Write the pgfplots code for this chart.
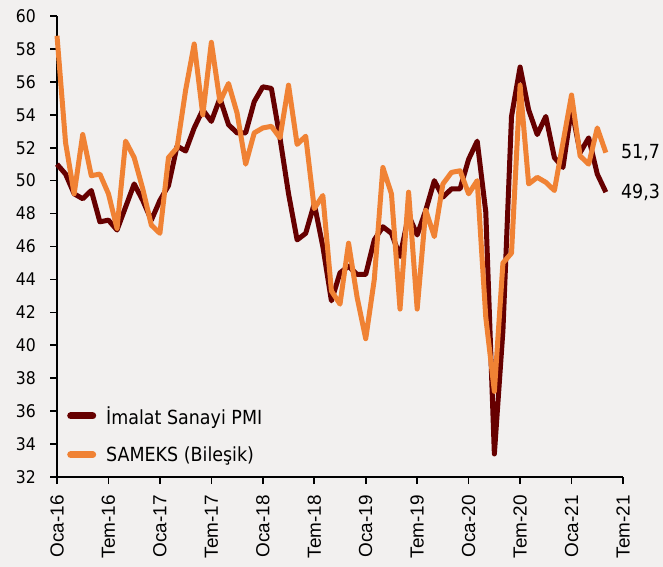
\documentclass[border=0pt]{standalone}
\usepackage{fontspec}
\setmainfont[FakeStretch=0.9]{DejaVu Sans}
\newfontfamily\arialfont{Liberation Sans}
\usepackage{pgfplots}
\usepackage{pgfplotstable}
\pgfplotsset{compat=1.18}
\definecolor{bg}{RGB}{242,240,239}
\definecolor{pmi}{RGB}{102,0,0}
\definecolor{sam}{RGB}{240,130,52}

\pgfplotstableread{
i pmi sam
0 51.0 58.8
1 50.4 52.3
2 49.2 49.2
3 48.9 52.8
4 49.4 50.3
5 47.5 50.4
6 47.6 49.2
7 47.0 47.1
8 48.4 52.4
9 49.8 51.4
10 48.8 49.5
11 47.6 47.3
12 48.8 46.8
13 49.7 51.4
14 52.1 52.0
15 51.8 55.5
16 53.2 58.3
17 54.3 54.0
18 53.6 58.4
19 55.0 54.8
20 53.4 55.9
21 52.9 54.1
22 52.9 51.0
23 54.8 52.9
24 55.7 53.2
25 55.6 53.3
26 52.6 52.6
27 49.2 55.8
28 46.4 52.2
29 46.8 52.7
30 48.6 48.3
31 46.0 49.1
32 42.7 43.3
33 44.4 42.5
34 44.8 46.2
35 44.3 42.9
36 44.3 40.4
37 46.4 44.0
38 47.2 50.8
39 46.8 49.2
40 45.4 42.2
41 47.9 49.3
42 46.7 42.2
43 48.2 48.2
44 50.0 46.6
45 49.0 49.8
46 49.5 50.5
47 49.5 50.6
48 51.3 49.2
49 52.4 50.0
50 48.1 41.7
51 33.4 37.2
52 40.9 45.0
53 53.9 45.6
54 56.9 55.8
55 54.3 49.8
56 52.8 50.2
57 53.9 49.9
58 51.4 49.4
59 50.8 52.3
60 54.4 55.2
61 51.7 51.5
62 52.6 51.0
63 50.4 53.2
64 49.3 51.7
}\datatable

\begin{document}
\begin{tikzpicture}
\fill[bg] (-57bp,-90bp) rectangle (606bp,477bp);
\useasboundingbox (-57bp,-90bp) rectangle (606bp,477bp);
\begin{axis}[
  at={(0,0)}, anchor=south west,
  scale only axis, width=566bp, height=461bp,
  xmin=0, xmax=66, ymin=32, ymax=60,
  axis lines*=left,
  axis line style={line width=1.6bp, black},
  clip=false,
  xtick={0,6,...,66},
  xticklabels={Oca-16,Tem-16,Oca-17,Tem-17,Oca-18,Tem-18,Oca-19,Tem-19,Oca-20,Tem-20,Oca-21,Tem-21},
  xticklabel style={rotate=90, anchor=east, inner sep=0pt, xshift=-11bp, font=\arialfont\fontsize{19}{22}\selectfont},
  ytick={32,34,...,60},
  yticklabel style={inner sep=0pt, xshift=-14bp, font=\fontsize{17.5}{20}\selectfont},
  /pgf/number format/assume math mode=true,
  xtick align=outside, ytick align=outside, major tick length=7bp,
  major tick style={draw=black, line width=1.6bp},
  legend cell align=left,
  legend image code/.code={\draw[#1, line width=7bp, line cap=round] (0bp,0bp) -- (22bp,0bp);},
  legend style={draw=none, fill=none, at={(axis description cs:0,0)}, anchor=south west,
    xshift=10bp, yshift=12bp, inner sep=0pt, row sep=17bp,
    /tikz/every odd column/.append style={column sep=8bp},
    font=\fontsize{19.5}{22}\selectfont},
]
\addplot[pmi, line width=5bp, line join=round] table[x=i, y=pmi] {\datatable};
\addlegendentry{İmalat Sanayi PMI}
\addplot[sam, line width=5bp, line join=round] table[x=i, y=sam] {\datatable};
\addlegendentry{SAMEKS (Bileşik)}
\node[anchor=west, inner sep=0pt, xshift=15bp, font=\fontsize{19.5}{22}\selectfont] at (axis cs:64,51.7) {51,7};
\node[anchor=west, inner sep=0pt, xshift=15bp, font=\fontsize{19.5}{22}\selectfont] at (axis cs:64,49.3) {49,3};
\end{axis}
\end{tikzpicture}
\end{document}
